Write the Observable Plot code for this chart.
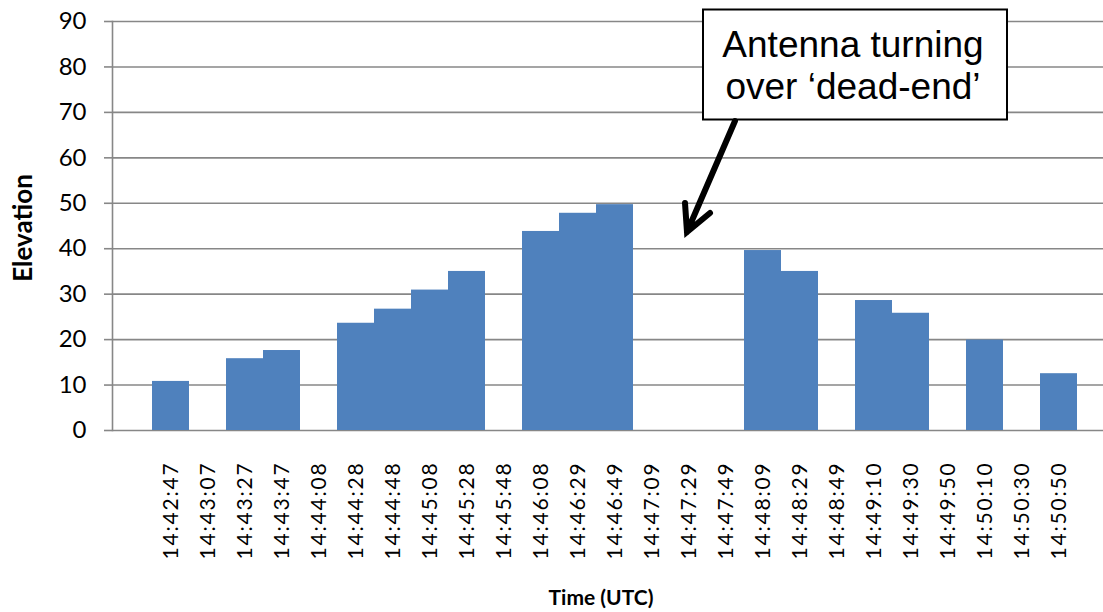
<!DOCTYPE html>
<html>
<head>
<meta charset="utf-8">
<script src="https://cdn.jsdelivr.net/npm/d3@7"></script>
<script src="https://cdn.jsdelivr.net/npm/@observablehq/plot@0.6"></script>
<style>
  html, body { margin: 0; padding: 0; background: white; }
</style>
</head>
<body>
<div id="chart"></div>
<script>
// Sample times (UTC) of the pass
const times = [
  "14:42:47", "14:43:07", "14:43:27", "14:43:47", "14:44:08", "14:44:28",
  "14:44:48", "14:45:08", "14:45:28", "14:45:48", "14:46:08", "14:46:29",
  "14:46:49", "14:47:09", "14:47:29", "14:47:49", "14:48:09", "14:48:29",
  "14:48:49", "14:49:10", "14:49:30", "14:49:50", "14:50:10", "14:50:30",
  "14:50:50"
];
// Antenna elevation (degrees); null where no sample was logged
const elevation = [
  10.8, null, 15.8, 17.6, null, 23.6,
  26.7, 30.9, 35.0, null, 43.8, 47.8,
  49.7, null, null, null, 39.6, 35.0,
  null, 28.6, 25.8, null, 19.9, null,
  12.5
];
const yTicks = [0, 10, 20, 30, 40, 50, 60, 70, 80, 90];
const noteLines = ["Antenna turning", "over \u2018dead-end\u2019"];

const rows = times.map((t, i) => ({time: t, elevation: elevation[i]}));

const W = 1103, H = 612;
const gridColor = "#878787";

const plot = Plot.plot({
  width: W,
  height: H,
  marginLeft: 112,
  marginRight: 0,
  marginTop: 21,
  marginBottom: 182,
  style: {fontFamily: "Lato, sans-serif", fontSize: "22px", background: "white", color: "black"},
  x: {type: "band", domain: ["", ...times, " "], range: [113, 1116], padding: 0},
  y: {domain: [0, 90]},
  marks: [
    Plot.gridY(yTicks, {stroke: gridColor, strokeOpacity: 1, strokeWidth: 1.6}),
    Plot.barY(rows, {x: "time", y: "elevation", fill: "#4F81BD", inset: 0}),
    Plot.frame({anchor: "left", stroke: gridColor, strokeWidth: 1.6}),
    Plot.axisY(yTicks, {tickSize: 8, tickPadding: 18, stroke: gridColor, strokeWidth: 1.6, fill: "black", fontSize: 24, label: null}),
    Plot.axisX({ticks: times, tickSize: 0, tickRotate: -90, tickPadding: 31, fontSize: 21, fill: "black", label: null}),
    Plot.text(["Elevation"], {frameAnchor: "left", textAnchor: "middle", rotate: -90, dx: -89, dy: 2, fontWeight: "bold", fontSize: 26, fill: "black"}),
    Plot.text(["Time (UTC)"], {frameAnchor: "bottom", textAnchor: "middle", dx: -7, dy: 174, fontWeight: "bold", fontSize: 21, fill: "black"})
  ]
});

document.getElementById("chart").appendChild(plot);

const svg = d3.select(plot);
// slightly wider spacing for the rotated time labels
svg.selectAll('[aria-label="x-axis tick label"] text').attr("letter-spacing", "1.8px");

// Callout box with arrow pointing at the gap in the pass
const note = svg.append("g").attr("class", "callout");
note.append("rect")
  .attr("x", 703).attr("y", 9.5).attr("width", 304).attr("height", 110)
  .attr("fill", "white").attr("stroke", "black").attr("stroke-width", 2);
note.selectAll("text.note").data(noteLines).join("text")
  .attr("class", "note")
  .attr("x", 853)
  .attr("y", (d, i) => 57 + i * 42)
  .attr("text-anchor", "middle")
  .attr("font-family", "'Liberation Sans', Arial, sans-serif")
  .attr("font-size", 37)
  .attr("fill", "black")
  .text(d => d);
note.append("path")
  .attr("d", "M735,121 L687,232 M710,213 L687,232 L685,203")
  .attr("fill", "none")
  .attr("stroke", "black")
  .attr("stroke-width", 6)
  .attr("stroke-linejoin", "miter")
  .attr("stroke-linecap", "round");
</script>
</body>
</html>
